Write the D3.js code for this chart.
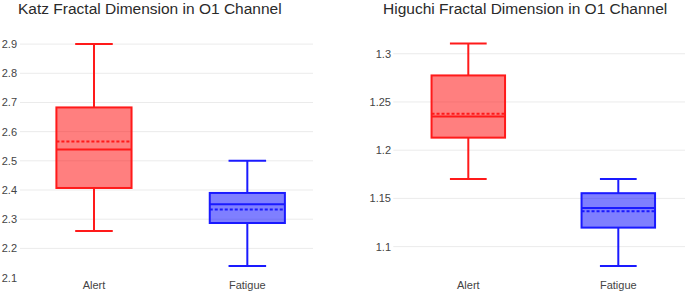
<!DOCTYPE html>
<html><head><meta charset="utf-8">
<script src="https://cdn.jsdelivr.net/npm/d3@7"></script>
<style>body{margin:0;background:#fff;}svg{display:block;font-family:"Liberation Sans",Arial,sans-serif;}</style>
</head><body>
<script>
const categories = ["Alert", "Fatigue"];
const colors = ["#ff1a1a", "#1a1aff"];
const fills = ["rgba(255,0,0,0.5)", "rgba(0,0,255,0.5)"];

// Katz: [lowerWhisker, q1, median, q3, upperWhisker, mean]
const katzAlert = [2.26, 2.407, 2.539, 2.683, 2.90, 2.566];
const katzFatigue = [2.14, 2.287, 2.351, 2.390, 2.50, 2.333];
const higuchiAlert = [1.170, 1.213, 1.235, 1.2775, 1.3105, 1.2377];
const higuchiFatigue = [1.080, 1.1197, 1.140, 1.1554, 1.170, 1.1367];

const katzTicks = [2.1, 2.2, 2.3, 2.4, 2.5, 2.6, 2.7, 2.8, 2.9];
const katzTickLabels = ["2.1","2.2","2.3","2.4","2.5","2.6","2.7","2.8","2.9"];
const higuchiTicks = [1.1, 1.15, 1.2, 1.25, 1.3];
const higuchiTickLabels = ["1.1","1.15","1.2","1.25","1.3"];

const W = 685, H = 294;
const svg = d3.select("body").append("svg").attr("width", W).attr("height", H);

function panel(cfg) {
  const g = svg.append("g");
  const x = d3.scaleBand().domain(categories).range(cfg.xRange).paddingInner(0).paddingOuter(0);
  const y = d3.scaleLinear().domain(cfg.yDomain).range([277, 33]);
  // gridlines (none drawn at the very bottom edge)
  g.selectAll("line.grid").data(cfg.ticks.filter(d => y(d) < 274)).join("line")
    .attr("x1", cfg.gridX[0]).attr("x2", cfg.gridX[1])
    .attr("y1", d => y(d)).attr("y2", d => y(d))
    .attr("stroke", "#ebebeb").attr("stroke-width", 1);
  // tick labels
  const yAxis = d3.axisLeft(y).tickValues(cfg.ticks).tickFormat((d, i) => cfg.tickLabels[i]).tickSize(0).tickPadding(0);
  const ag = g.append("g").attr("transform", `translate(${cfg.labelX},0)`).call(yAxis);
  ag.select(".domain").remove();
  ag.selectAll("text").attr("font-size", 11).attr("fill", "#444").attr("font-family", "Liberation Sans, Arial, sans-serif");
  // category labels
  const xAxis = d3.axisBottom(x).tickSize(0).tickPadding(0);
  const xg = g.append("g").attr("transform", `translate(0,281)`).call(xAxis);
  xg.select(".domain").remove();
  xg.selectAll("text").attr("font-size", 11).attr("fill", "#444").attr("font-family", "Liberation Sans, Arial, sans-serif");
  // boxes
  const bw = x.bandwidth() * 0.49;
  cfg.data.forEach((d, i) => {
    const cx = x(categories[i]) + x.bandwidth() / 2;
    const col = colors[i];
    const bg = g.append("g").attr("stroke", col).attr("stroke-width", 2).attr("fill", "none");
    // whiskers
    bg.append("line").attr("x1", cx).attr("x2", cx).attr("y1", y(d[4])).attr("y2", y(d[3]));
    bg.append("line").attr("x1", cx).attr("x2", cx).attr("y1", y(d[0])).attr("y2", y(d[1]));
    bg.append("line").attr("x1", cx - bw / 4).attr("x2", cx + bw / 4).attr("y1", y(d[4])).attr("y2", y(d[4]));
    bg.append("line").attr("x1", cx - bw / 4).attr("x2", cx + bw / 4).attr("y1", y(d[0])).attr("y2", y(d[0]));
    // box
    bg.append("rect").attr("x", cx - bw / 2).attr("width", bw)
      .attr("y", y(d[3])).attr("height", y(d[1]) - y(d[3]))
      .attr("fill", fills[i]);
    // median
    bg.append("line").attr("x1", cx - bw / 2).attr("x2", cx + bw / 2).attr("y1", y(d[2])).attr("y2", y(d[2]));
    // mean
    bg.append("line").attr("x1", cx - bw / 2).attr("x2", cx + bw / 2).attr("y1", y(d[5])).attr("y2", y(d[5]))
      .attr("stroke-dasharray", "3,2");
  });
  // title
  svg.append("text").attr("x", cfg.titleX).attr("y", 14)
    .attr("font-size", 15.5).attr("fill", "#2a2a2a").text(cfg.title);
}

panel({
  title: "Katz Fractal Dimension in O1 Channel", titleX: 18,
  xRange: [17.3, 324], gridX: [20, 313], labelX: 17,
  yDomain: [2.102, 2.938], ticks: katzTicks, tickLabels: katzTickLabels,
  data: [katzAlert, katzFatigue]
});
panel({
  title: "Higuchi Fractal Dimension in O1 Channel", titleX: 383,
  xRange: [393.3, 693.3], gridX: [393.3, 685], labelX: 391,
  yDomain: [1.0685, 1.3215], ticks: higuchiTicks, tickLabels: higuchiTickLabels,
  data: [higuchiAlert, higuchiFatigue]
});
</script>
</body></html>
